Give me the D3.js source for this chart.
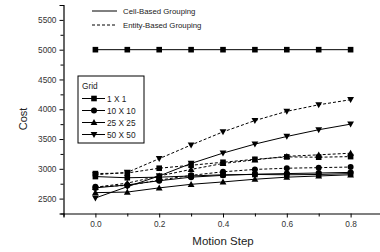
<!DOCTYPE html>
<html>
<head>
<meta charset="utf-8">
<script src="https://cdn.jsdelivr.net/npm/d3@7"></script>
<style>
  body { margin: 0; background: #fff; }
  svg { font-family: "Liberation Sans", Arial, sans-serif; }
</style>
</head>
<body>
<svg id="chart" width="380" height="252"></svg>
<script>
// datos
const pasos = [0, 0.1, 0.2, 0.3, 0.4, 0.5, 0.6, 0.7, 0.8];

// Cell-Based Grouping (linea continua)
const celda1x1Alto = [5000, 5000, 5000, 5000, 5000, 5000, 5000, 5000, 5000];
const celda1x1 = [2870, 2850, 2860, 2880, 2900, 2905, 2900, 2905, 2920];
const celda10x10 = [2680, 2730, 2800, 2860, 2890, 2910, 2920, 2930, 2940];
const celda25x25 = [2600, 2610, 2680, 2740, 2780, 2825, 2860, 2880, 2900];
const celda50x50 = [2510, 2700, 2880, 3090, 3264, 3415, 3543, 3656, 3750];

// Entity-Based Grouping (linea discontinua)
const entidad1x1 = [2920, 2930, 3010, 3060, 3110, 3160, 3200, 3195, 3205];
const entidad10x10 = [2700, 2720, 2810, 2890, 2950, 2990, 3010, 3020, 3030];
const entidad25x25 = [2690, 2760, 2880, 2990, 3090, 3150, 3210, 3235, 3262];
const entidad50x50 = [2900, 2940, 3170, 3400, 3620, 3810, 3965, 4075, 4160];

const ticksY = [2500, 3000, 3500, 4000, 4500, 5000, 5500];
const ticksX = [0, 0.2, 0.4, 0.6, 0.8];
const gridEtiquetas = ["1 X 1", "10 X 10", "25 X 25", "50 X 50"];
const gridSimbolos = ["square", "circle", "triangle", "triangleDown"];

const series = [
  { valores: celda1x1Alto, simbolo: "square", guion: null },
  { valores: celda1x1, simbolo: "square", guion: null },
  { valores: celda10x10, simbolo: "circle", guion: null },
  { valores: celda25x25, simbolo: "triangle", guion: null },
  { valores: celda50x50, simbolo: "triangleDown", guion: null },
  { valores: entidad1x1, simbolo: "square", guion: "3,2" },
  { valores: entidad10x10, simbolo: "circle", guion: "3,2" },
  { valores: entidad25x25, simbolo: "triangle", guion: "3,2" },
  { valores: entidad50x50, simbolo: "triangleDown", guion: "3,2" },
];

const svg = d3.select("#chart");

const x = d3.scaleLinear().domain([-0.1, 0.9]).range([63.5, 382.5]);
const y = d3.scaleLinear().domain([2250, 5750]).range([213.5, 5]);

// dibuja un marcador en (cx, cy)
function marcador(g, tipo, cx, cy) {
  if (tipo === "square") {
    g.append("rect").attr("x", cx - 2.8).attr("y", cy - 2.8)
      .attr("width", 5.6).attr("height", 5.6).attr("fill", "#000");
  } else if (tipo === "circle") {
    g.append("circle").attr("cx", cx).attr("cy", cy).attr("r", 3).attr("fill", "#000");
  } else if (tipo === "triangle") {
    g.append("path").attr("d", `M${cx},${cy - 3.4}L${cx + 3.4},${cy + 2.6}L${cx - 3.4},${cy + 2.6}Z`).attr("fill", "#000");
  } else {
    g.append("path").attr("d", `M${cx},${cy + 3.4}L${cx + 3.4},${cy - 2.6}L${cx - 3.4},${cy - 2.6}Z`).attr("fill", "#000");
  }
}

// ejes
const ejeY = svg.append("g").attr("transform", `translate(${x(-0.1)},0)`)
  .call(d3.axisLeft(y).tickValues(ticksY).tickSize(4).tickPadding(3).tickFormat(d3.format("d")));
const ejeYMenor = svg.append("g").attr("transform", `translate(${x(-0.1)},0)`)
  .call(d3.axisLeft(y).tickValues(d3.range(2250, 5751, 250).filter(v => v % 500 !== 0)).tickSize(3).tickFormat(""));
const ejeX = svg.append("g").attr("transform", `translate(0,${y(2250)})`)
  .call(d3.axisBottom(x).tickValues(ticksX).tickSize(4).tickPadding(4).tickFormat(d3.format(".1f")));
const ejeXMenor = svg.append("g").attr("transform", `translate(0,${y(2250)})`)
  .call(d3.axisBottom(x).tickValues([-0.1, 0.1, 0.3, 0.5, 0.7, 0.9]).tickSize(3).tickFormat(""));

[ejeY, ejeYMenor, ejeX, ejeXMenor].forEach(e => {
  e.selectAll("path").attr("stroke", "#000").attr("stroke-width", 1.2);
  e.selectAll("line").attr("stroke", "#000");
  e.selectAll("text").attr("font-size", 8.3).attr("fill", "#333")
    .attr("font-family", "'Liberation Sans', Arial, sans-serif");
});
ejeYMenor.select("path").remove();
ejeXMenor.select("path").remove();

svg.append("text").attr("transform", `translate(27,119) rotate(-90)`)
  .attr("text-anchor", "middle").attr("font-size", 11).attr("fill", "#222").text("Cost");
svg.append("text").attr("x", 223).attr("y", 245)
  .attr("text-anchor", "middle").attr("font-size", 11.5).attr("fill", "#222").text("Motion Step");

// lineas y marcadores
const linea = d3.line().x((d, i) => x(pasos[i])).y(d => y(d));
series.forEach(s => {
  const g = svg.append("g");
  g.append("path").datum(s.valores).attr("d", linea)
    .attr("fill", "none").attr("stroke", "#000").attr("stroke-width", 1)
    .attr("stroke-dasharray", s.guion);
  s.valores.forEach((v, i) => marcador(g, s.simbolo, x(pasos[i]), y(v)));
});

// leyenda superior
const leyenda = svg.append("g");
[["Cell-Based Grouping", null], ["Entity-Based Grouping", "3,2"]].forEach((d, i) => {
  const yy = 11 + i * 14;
  leyenda.append("line").attr("x1", 92).attr("x2", 117).attr("y1", yy).attr("y2", yy)
    .attr("stroke", "#000").attr("stroke-dasharray", d[1]);
  leyenda.append("text").attr("x", 123).attr("y", yy + 3).attr("font-size", 7.8)
    .attr("fill", "#222").text(d[0]);
});

// leyenda Grid
const caja = svg.append("g");
caja.append("rect").attr("x", 78).attr("y", 76).attr("width", 66).attr("height", 67)
  .attr("fill", "#fff").attr("stroke", "#000").attr("stroke-width", 1);
caja.append("text").attr("x", 82).attr("y", 89).attr("font-size", 8.3).attr("fill", "#222").text("Grid");
gridEtiquetas.forEach((t, i) => {
  const yy = 98.5 + i * 12;
  caja.append("line").attr("x1", 82).attr("x2", 105).attr("y1", yy).attr("y2", yy).attr("stroke", "#000");
  marcador(caja, gridSimbolos[i], 94, yy);
  caja.append("text").attr("x", 107).attr("y", yy + 3).attr("font-size", 8.3).attr("fill", "#222").text(t);
});
</script>
</body>
</html>
